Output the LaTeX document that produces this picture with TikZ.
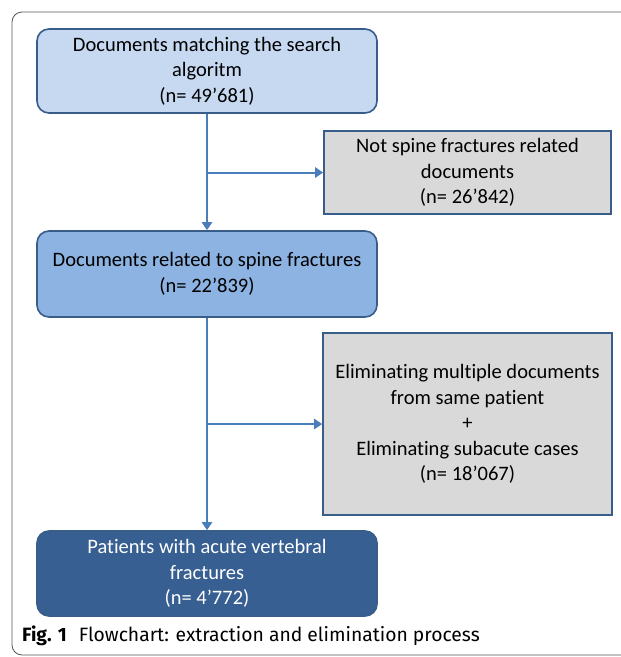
\documentclass[tikz,border=0pt]{standalone}
\usepackage{fontspec}
\setmainfont[Ligatures=NoCommon]{Carlito}
\newfontfamily\capfont[Ligatures=NoCommon]{Fira Sans}
\usetikzlibrary{arrows.meta}
\definecolor{edgeblue}{HTML}{385D8A}
\definecolor{arrowblue}{HTML}{4A7EBB}
\definecolor{lightfill}{HTML}{C6D9F1}
\definecolor{midfill}{HTML}{8DB3E2}
\definecolor{darkfill}{HTML}{375F91}
\definecolor{grayfill}{HTML}{D9D9D9}
\definecolor{framegray}{HTML}{555555}
\tikzset{
  flowbox/.style={draw=edgeblue, line width=1.6pt, rounded corners=12pt, minimum width=340pt, inner sep=0pt, align=center, font=\fontsize{20.5}{25.5}\selectfont},
  graybox/.style={draw=edgeblue, line width=1.6pt, fill=grayfill, inner sep=0pt, align=center, font=\fontsize{20.5}{25.5}\selectfont},
  conn/.style={draw=arrowblue, line width=2pt},
  arr/.style={conn, -{Triangle[width=10pt,length=8pt]}}
}
\begin{document}
\begin{tikzpicture}[x=1pt,y=1pt]
\useasboundingbox (0,0) rectangle (621,-657);
\fill[white] (0,0) rectangle (621,-657);
\draw[framegray, line width=0.8pt, rounded corners=10pt] (640,-12) -- (12,-12) -- (12,-655) -- (640,-655);

\node[flowbox, fill=lightfill, minimum height=84pt] (b1) at (207,-71) {Documents matching the search\\algoritm\\(n= 49’681)};
\node[graybox, minimum width=287pt, minimum height=83pt] (g1) at (467.5,-172.5) {Not spine fractures related\\documents\\(n= 26’842)};
\node[flowbox, fill=midfill, minimum height=86pt] (b2) at (207,-274) {Documents related to spine fractures\\(n= 22’839)};
\node[graybox, minimum width=289pt, minimum height=182pt] (g2) at (467.5,-424) {Eliminating multiple documents\\from same patient\\+\\Eliminating subacute cases\\(n= 18’067)};
\node[flowbox, fill=darkfill, text=white, minimum height=85pt] (b3) at (207,-573.5) {Patients with acute vertebral\\fractures\\(n= 4’772)};

\coordinate (j1) at (b1.south |- g1.west);
\coordinate (j2) at (b2.south |- g2.west);
\draw[arr] (b1.south) -- (b2.north);
\draw[arr] (j1) -- (g1.west);
\draw[arr] (b2.south) -- (b3.north);
\draw[arr] (j2) -- (g2.west);

\node[anchor=west, inner sep=0pt, font=\capfont\fontsize{19.3}{21}\selectfont] (cap) at (22,-636) {\textbf{Fig. 1}\hspace{12pt}Flowchart: extraction and elimination process};
\end{tikzpicture}
\end{document}
